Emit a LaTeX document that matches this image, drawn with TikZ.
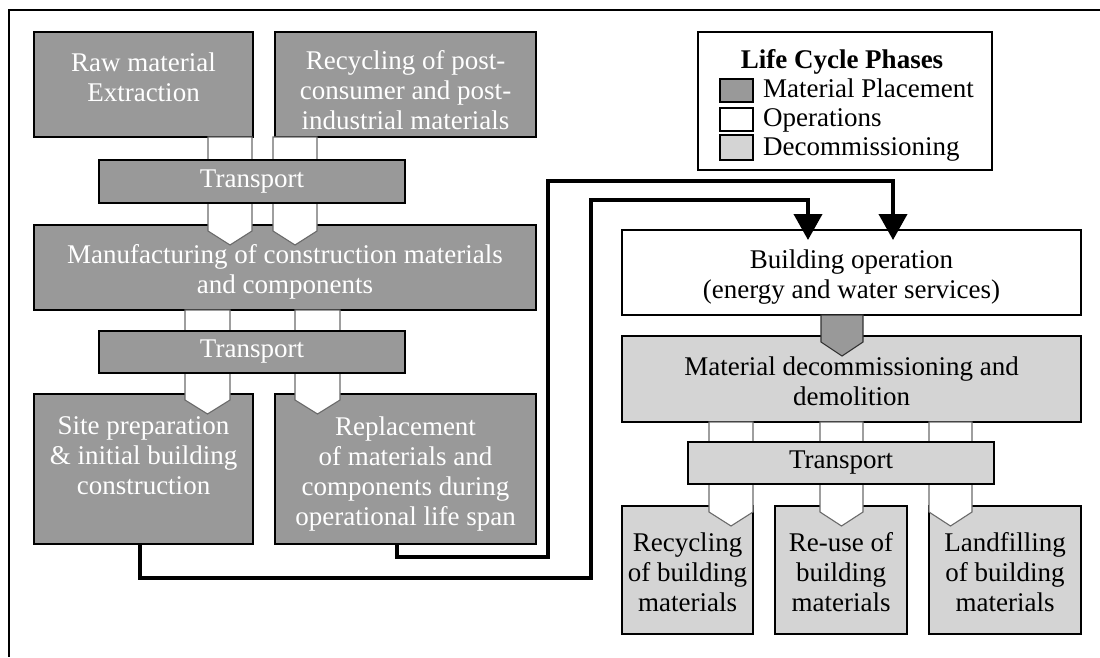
\documentclass[tikz,border=0pt]{standalone}
\usepackage{fontspec}
\setmainfont{Liberation Serif}
\usetikzlibrary{arrows.meta,calc}
\definecolor{mp}{HTML}{999999}
\definecolor{dc}{HTML}{D4D4D4}
\definecolor{edgegray}{HTML}{6A6A6A}
\newcommand\bigfont{\fontsize{27}{30}\selectfont}
\newcommand\fs{\rule{0pt}{19pt}}
% block arrow: xl, xc, xr, source node, target node, style
\newcommand\barrow[6]{%
  \filldraw[#6] (#1,0 |- #4.south) -- (#3,0 |- #4.south)
    -- ($(#3,0 |- #5.north)+(0,6)$) -- ($(#2,0 |- #5.north)+(0,20)$)
    -- ($(#1,0 |- #5.north)+(0,6)$) -- cycle;}
\begin{document}
\begin{tikzpicture}[x=1pt,y=-1pt,
  boxbase/.style={draw=black, line width=1.6pt, inner sep=0pt, outer sep=0pt},
  mpbox/.style={boxbase, fill=mp},
  opbox/.style={boxbase, fill=white},
  dcbox/.style={boxbase, fill=dc},
  wtxt/.style={anchor=north, inner sep=0pt, align=center, font=\bigfont, text=white},
  btxt/.style={wtxt, text=black},
  whitearr/.style={fill=white, draw=edgegray, line width=1.1pt},
  grayarr/.style={fill=mp, draw=black!80, line width=1.1pt},
  conn/.style={line width=4pt, -{Triangle[width=28pt,length=26pt]}},
  swatch/.style={draw=black, line width=1.8pt, minimum width=33pt, inner sep=0pt},
  legtext/.style={anchor=base west, inner sep=0pt, font=\bigfont},
]
\useasboundingbox (0,0) rectangle (1100,657);
% frame
\draw[line width=2pt] (1100,10) -- (9,10) -- (9,657);
% legend
\node[draw=black, line width=1.3pt, minimum width=294pt, minimum height=138pt, inner sep=0pt] (leg) at (845,101) {};
\node[anchor=base, inner sep=0pt, font=\bigfont\bfseries] (legT) at (842,68) {Life Cycle Phases};
\node[swatch, fill=mp, minimum height=23pt] (sw1) at (736.5,90.5) {};
\node[swatch, fill=white, minimum height=23pt] (sw2) at (736.5,119.5) {};
\node[swatch, fill=dc, minimum height=25pt] (sw3) at (736.5,147.5) {};
\node[legtext] (l1) at (763,97) {Material Placement};
\node[legtext] (l2) at (763,126) {Operations};
\node[legtext] (l3) at (763,155) {Decommissioning};
% boxes
\node[mpbox, minimum width=219pt, minimum height=105pt] (raw) at (143.5,84.5) {};
\node[mpbox, minimum width=261pt, minimum height=105pt] (rec) at (405.5,84.5) {};
\node[mpbox, minimum width=502pt, minimum height=85pt] (manu) at (285,267.5) {};
\node[mpbox, minimum width=219pt, minimum height=150pt] (site) at (143.5,469) {};
\node[mpbox, minimum width=261pt, minimum height=150pt] (rep) at (405.5,469) {};
\node[opbox, minimum width=459pt, minimum height=85pt] (bop) at (851.5,272.5) {};
\node[dcbox, minimum width=459pt, minimum height=86pt] (mdd) at (851.5,379) {};
\node[dcbox, minimum width=131pt, minimum height=128pt] (rcb) at (687.5,570) {};
\node[dcbox, minimum width=132pt, minimum height=128pt] (rub) at (841,570) {};
\node[dcbox, minimum width=152pt, minimum height=128pt] (lfb) at (1005,570) {};
% texts
\node[wtxt] (rawT) at (143.5,52) {\fs Raw material\\Extraction};
\node[wtxt] (recT) at (405.5,50) {\fs Recycling of post-\\consumer and post-\\industrial materials};
\node[wtxt] (manuT) at (285,244) {\fs Manufacturing of construction materials\\and components};
\node[wtxt] (siteT) at (143.5,415) {\fs Site preparation\\\& initial building\\construction};
\node[wtxt] (repT) at (405.5,416) {\fs Replacement\\of materials and\\components during\\operational life span};
\node[btxt] (bopT) at (851.5,249) {\fs Building operation\\(energy and water services)};
\node[btxt] (mddT) at (851.5,356) {\fs Material decommissioning and\\demolition};
\node[btxt] (rcbT) at (687.5,532) {\fs Recycling\\of building\\materials};
\node[btxt] (rubT) at (841,532) {\fs Re-use of\\building\\materials};
\node[btxt] (lfbT) at (1005,532) {\fs Landfilling\\of building\\materials};
% block arrows
\barrow{208}{230}{252}{raw}{manu}{whitearr}
\barrow{273}{295}{317}{rec}{manu}{whitearr}
\barrow{185}{207.5}{230}{manu}{site}{whitearr}
\barrow{295}{317.5}{340}{manu}{rep}{whitearr}
\barrow{821}{842}{863}{bop}{mdd}{grayarr}
\barrow{709}{731}{753}{mdd}{rcb}{whitearr}
\barrow{820}{841.5}{863}{mdd}{rub}{whitearr}
\barrow{929}{950.5}{972}{mdd}{lfb}{whitearr}
% transport boxes
\node[mpbox, minimum width=306pt, minimum height=43pt, text=white, font=\bigfont] (tr1) at (252,181.5) {Transport};
\node[mpbox, minimum width=306pt, minimum height=42pt, text=white, font=\bigfont] (tr2) at (252,352) {Transport};
\node[dcbox, minimum width=306pt, minimum height=42pt, font=\bigfont] (tr3) at (841,463) {Transport};
% connectors
\coordinate (tipA) at ([xshift=-43.5pt,yshift=-10pt]bop.north);
\coordinate (tipB) at ([xshift=41.5pt,yshift=-10pt]bop.north);
\draw[conn] ([xshift=-3.5pt]site.south) |- (591,578) -- (591,200) -| (tipA);
\draw[conn] ([xshift=-8.5pt]rep.south) |- (548,557) -- (548,181) -| (tipB);
\end{tikzpicture}
\end{document}
